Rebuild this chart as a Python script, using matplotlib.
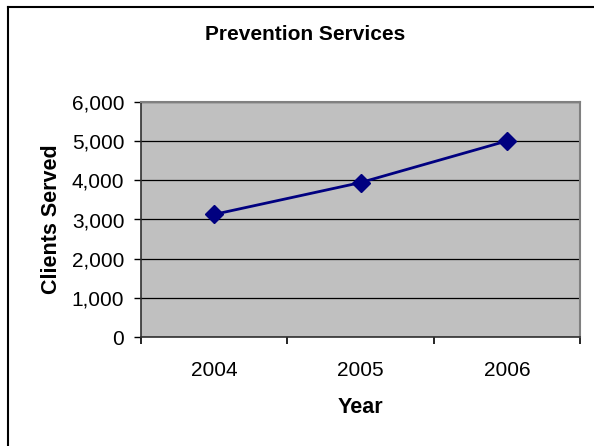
import matplotlib.pyplot as plt
from matplotlib.ticker import FuncFormatter, FixedLocator
from matplotlib.lines import Line2D

# clients served per year
years = ['2004', '2005', '2006']
clients = [3130, 3940, 5000]

plt.rcParams['font.family'] = ['Liberation Sans', 'DejaVu Sans']

fig = plt.figure(figsize=(5.94, 4.46), dpi=100)
ax = fig.add_axes([141 / 594, 1 - 337.3 / 446, 439 / 594, 235.6 / 446])
ax.set_facecolor('#c0c0c0')

x = list(range(len(years)))
ax.plot(x, clients, color='#000080', lw=2, marker='D', ms=9.5,
        markerfacecolor='#000080', markeredgecolor='#000080', zorder=3)

ax.set_ylim(0, 6000)
ax.set_xlim(-0.5, len(years) - 0.5)
ax.set_yticks(range(0, 6001, 1000))
ax.yaxis.set_major_formatter(FuncFormatter(lambda v, p: f'{int(v):,}'))
ax.grid(axis='y', color='black', lw=0.9)
ax.set_axisbelow(True)

# category labels in the middle, ticks on the boundaries
ax.set_xticks(x)
ax.set_xticklabels(years)
ax.xaxis.set_minor_locator(FixedLocator([i - 0.5 for i in range(len(years) + 1)]))
ax.tick_params(axis='x', which='major', length=0, pad=17, labelsize=15)
ax.tick_params(axis='x', which='minor', length=5, width=1.2, direction='out')
ax.tick_params(axis='y', length=5, width=1, direction='out', pad=7, labelsize=15)

for side in ['top', 'right']:
    ax.spines[side].set_color('#808080')
    ax.spines[side].set_linewidth(1.5)
for side in ['left', 'bottom']:
    ax.spines[side].set_color('#303030')
    ax.spines[side].set_linewidth(1.2)

ax.set_xlabel('Year', fontsize=15.5, fontweight='bold', labelpad=12)
ax.set_ylabel('Clients Served', fontsize=15.5, fontweight='bold', labelpad=7)
fig.text(305 / 594, 1 - 35 / 446, 'Prevention Services', ha='center', va='center',
         fontsize=15, fontweight='bold')

# chart frame (top and left edges)
fig.add_artist(Line2D([8 / 594, 1], [1 - 6.5 / 446, 1 - 6.5 / 446], color='black', lw=1.5,
                      transform=fig.transFigure))
fig.add_artist(Line2D([8 / 594, 8 / 594], [0, 1 - 6.5 / 446], color='black', lw=1.5,
                      transform=fig.transFigure))

fig.savefig('out.png', dpi=100)
